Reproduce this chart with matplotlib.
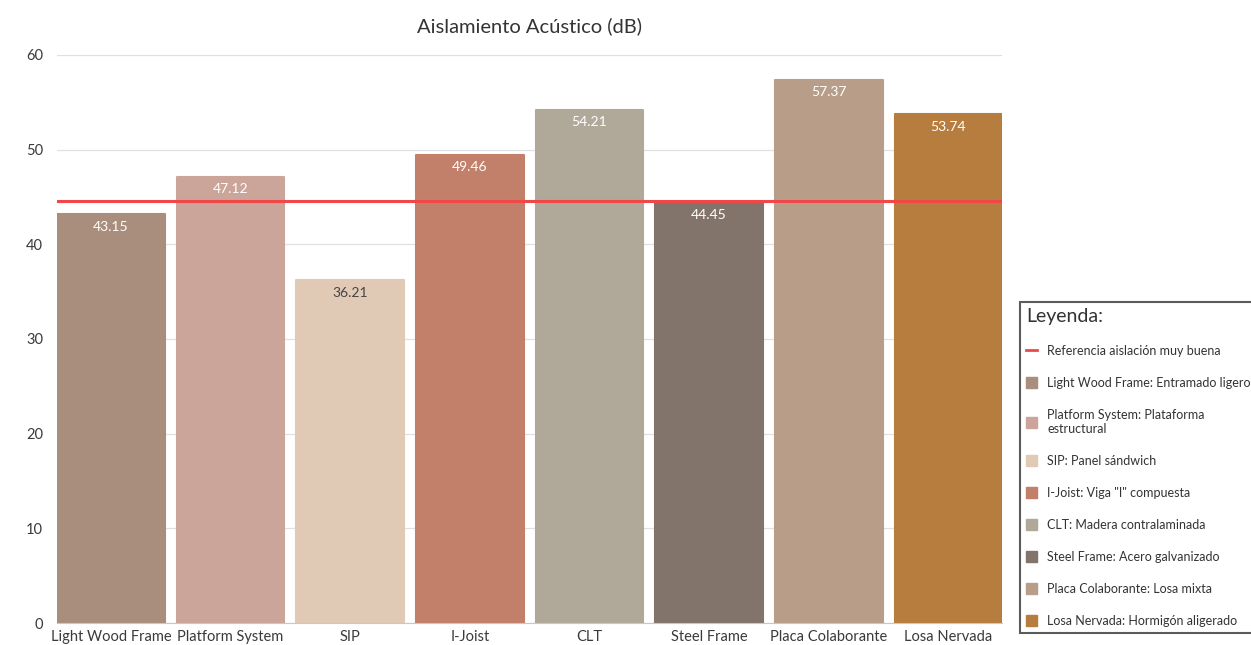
import matplotlib.pyplot as plt
from matplotlib.patches import Patch
from matplotlib.lines import Line2D

plt.rcParams['font.family'] = ['Lato', 'DejaVu Sans']

# Datos
sistemas = ['Light Wood Frame', 'Platform System', 'SIP', 'I-Joist', 'CLT',
            'Steel Frame', 'Placa Colaborante', 'Losa Nervada']
valores = [43.15, 47.12, 36.21, 49.46, 54.21, 44.45, 57.37, 53.74]
colores = ['#a98e7e', '#cba59a', '#e0c9b5', '#c27f69', '#b0a898',
           '#82746a', '#b89e88', '#b77d3f']
leyenda = ['Light Wood Frame: Entramado ligero',
           'Platform System: Plataforma\nestructural',
           'SIP: Panel sándwich',
           'I-Joist: Viga "I" compuesta',
           'CLT: Madera contralaminada',
           'Steel Frame: Acero galvanizado',
           'Placa Colaborante: Losa mixta',
           'Losa Nervada: Hormigón aligerado']
referencia = 44.6

fig = plt.figure(figsize=(12.51, 6.45), dpi=100)
ax = fig.add_axes([0.0456, 0.034, 0.7555, 0.881])

x = range(len(sistemas))
barras = ax.bar(x, valores, width=0.9, color=colores, edgecolor=colores,
                linewidth=1.5, joinstyle='round', zorder=2)

for b, v, c in zip(barras, valores, colores):
    col_txt = '#444444' if c == '#e0c9b5' else 'white'
    ax.text(b.get_x() + b.get_width() / 2, v - 0.7, f'{v:.2f}',
            ha='center', va='top', fontsize=10, color=col_txt, zorder=3)

ax.axhline(referencia, color='#f04848', linewidth=2.2, zorder=4)

ax.set_xlim(-0.45, len(sistemas) - 0.55)
ax.set_ylim(0, 60)
ax.set_yticks(range(0, 61, 10))
ax.set_xticks(list(x))
ax.set_xticklabels(sistemas, fontsize=10.5, color='#3a3a3a')
ax.tick_params(axis='y', labelsize=10.5, colors='#3a3a3a', length=0, pad=10)
ax.tick_params(axis='x', length=0, pad=5)
ax.grid(axis='y', color='#e0e0e0', linewidth=0.9, zorder=0)
for s in ['top', 'right', 'left']:
    ax.spines[s].set_visible(False)
ax.spines['bottom'].set_color('#c8c8c8')

ax.set_title('Aislamiento Acústico (dB)', fontsize=14.5, color='#333333', pad=16)

# Leyenda
handles = [Line2D([0], [0], color='#f04848', linewidth=2)]
handles += [Patch(facecolor=c, edgecolor=c) for c in colores]
labels = ['Referencia aislación muy buena'] + leyenda
leg = fig.legend(handles, labels, title='Leyenda:', loc='upper left',
                 bbox_to_anchor=(0.81, 0.542), fontsize=9.0,
                 title_fontsize=14, frameon=True, fancybox=False,
                 labelspacing=1.6, handlelength=0.9, handleheight=0.9,
                 handletextpad=0.8, borderpad=0.5, alignment='left')
leg.get_frame().set_edgecolor('#333333')
leg.get_frame().set_linewidth(1.5)
for t in leg.get_texts():
    t.set_color('#333333')
leg.get_title().set_color('#333333')

fig.savefig('out.png', dpi=100)
